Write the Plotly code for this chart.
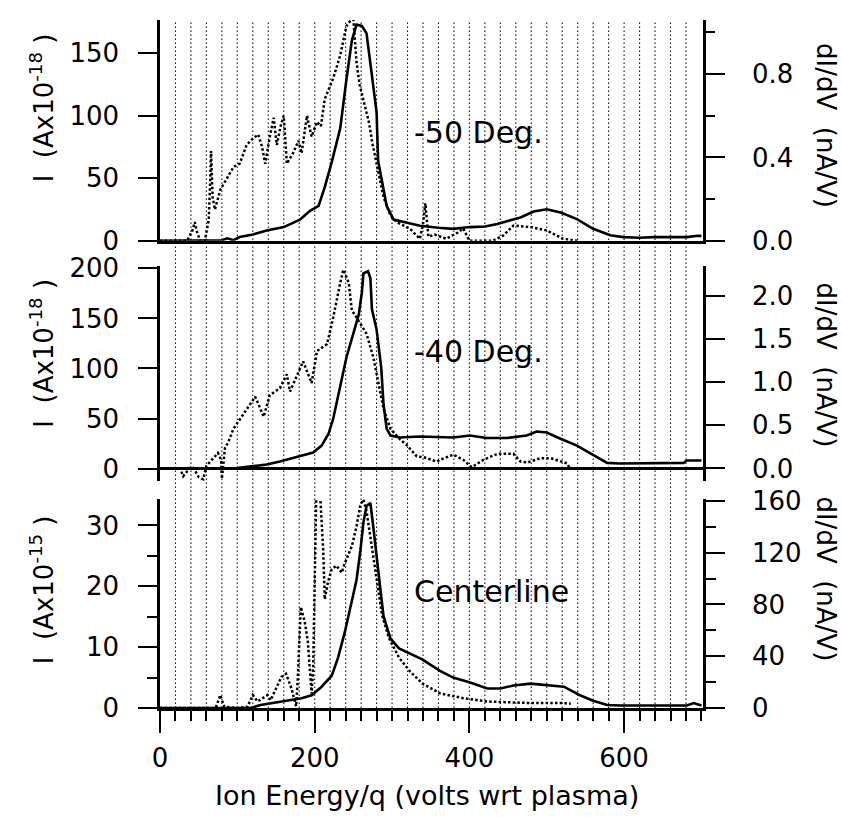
import plotly.graph_objects as go

# ---------------- data ----------------
# Energy axis (volts wrt plasma)
grid_x = list(range(20, 700, 20))

# -50 Deg. panel
top_solid_x = [0, 20, 40, 60, 80, 87, 95, 103, 120, 138, 160, 181, 194, 205, 213, 222, 233, 241, 248, 254,
               261, 267, 274, 280, 282, 289, 293, 302, 317, 336, 360, 379, 401, 420, 436, 452, 466, 483,
               500, 518, 539, 560, 582, 599, 620, 638, 660, 681, 695, 700]
top_solid_y = [0, 0, 0.5, 0, 0.5, 2, 0.5, 3, 5, 8.3, 11, 17, 24, 28, 43, 63, 90, 129, 160, 173,
               172, 166, 134, 103, 64, 43, 28, 17, 15, 12, 10.5, 9.6, 11, 11.5, 13.5, 16, 18.7, 23.4,
               25.2, 22.6, 17.4, 9.6, 4.4, 3, 2.5, 3, 3, 3, 4, 4]
top_dot_x = [0, 20, 35, 42, 45, 48, 52, 58, 63, 65, 66, 68, 71, 78, 87, 95, 103, 112, 120, 127, 132, 136,
             142, 147, 151, 156, 160, 164, 172, 179, 183, 190, 196, 203, 208, 213, 224, 233, 241, 247, 250,
             254, 258, 263, 270, 275, 282, 289, 298, 306, 323, 336, 340, 343, 347, 355, 370, 385, 392,
             400, 409, 430, 444, 457, 466, 479, 500, 521, 540]
top_dot_y = [0, 0, 0, 0.05, 0.09, 0.04, 0, 0, 0.1, 0.3, 0.43, 0.21, 0.15, 0.245, 0.3, 0.354, 0.37, 0.46,
             0.49, 0.51, 0.45, 0.37, 0.5, 0.59, 0.46, 0.55, 0.6, 0.37, 0.42, 0.48, 0.42, 0.6, 0.5, 0.57,
             0.55, 0.68, 0.78, 0.89, 1.03, 1.06, 1.06, 0.86, 0.75, 0.68, 0.57, 0.46, 0.34, 0.21, 0.12,
             0.09, 0.058, 0.01, 0.08, 0.18, 0.02, 0.03, 0.01, 0.04, 0.06, 0.0, 0.0, 0.0, 0.026, 0.073,
             0.07, 0.066, 0.05, 0.01, 0]

# -40 Deg. panel
mid_solid_x = [0, 30, 60, 90, 99, 121, 138, 155, 181, 198, 209, 218, 224, 233, 241, 250, 257, 261, 263,
               269, 272, 274, 280, 286, 289, 293, 298, 310, 336, 379, 401, 422, 448, 474, 487, 500, 508,
               517, 539, 560, 578, 595, 638, 677, 681, 700]
mid_solid_y = [0, 0, 0, 0, 0.5, 2.4, 4, 7, 12, 16, 23, 35, 50, 81, 111, 135, 154, 176, 195,
               197, 190, 159, 139, 101, 64, 40, 33, 31, 32, 31, 33, 30.5, 30.5, 33, 37, 36, 33,
               30, 23, 14, 5.7, 5, 5, 5.7, 8, 8]
mid_dot_x = [0, 20, 26, 30, 39, 43, 50, 56, 60, 67, 75, 79, 80, 84, 88, 95, 112, 123, 127, 134, 142, 155,
             164, 168, 172, 185, 196, 203, 216, 224, 233, 237, 244, 248, 254, 259, 267, 276, 282, 289,
             298, 310, 319, 332, 341, 358, 362, 379, 392, 403, 418, 436, 457, 466, 475, 492, 505, 526, 530]
mid_dot_y = [0, 0, 0, -0.09, 0.01, 0.01, -0.1, -0.125, 0.03, 0.1, 0.18, 0.1, -0.12, 0.235, 0.3, 0.46,
             0.69, 0.83, 0.75, 0.6, 0.85, 0.93, 1.09, 0.89, 0.97, 1.24, 0.99, 1.36, 1.44, 1.75, 2.15,
             2.3, 2.15, 1.83, 1.75, 1.68, 1.56, 1.28, 1.0, 0.69, 0.46, 0.34, 0.27, 0.14, 0.13, 0.08,
             0.1, 0.16, 0.1, 0.015, 0.1, 0.17, 0.17, 0.08, 0.07, 0.12, 0.12, 0.06, 0.0]

# Centerline panel
bot_solid_x = [0, 60, 117, 130, 161, 183, 196, 209, 222, 230, 239, 248, 254, 259, 263, 267, 272, 276,
               280, 285, 289, 298, 309, 326, 339, 362, 379, 401, 423, 440, 457, 479, 500, 522, 543,
               560, 578, 595, 681, 690, 700]
bot_solid_y = [0, 0, 0, 0.5, 1.1, 1.6, 2.1, 3.5, 5.3, 8.2, 12.5, 17.8, 21, 25.8, 30.5, 33.2, 33.7, 29.5,
               24.7, 19.4, 15.1, 11.4, 9.8, 8.8, 8, 6.1, 5.0, 4.2, 3.2, 3.2, 3.7, 4.0, 3.7, 3.5, 2.1,
               1.2, 0.5, 0.4, 0.4, 0.8, 0.4]
bot_dot_x = [0, 40, 72, 78, 83, 100, 113, 120, 126, 139, 143, 157, 163, 170, 176, 178, 182, 187, 191,
             196, 198, 200, 202, 207, 211, 213, 217, 222, 228, 235, 239, 248, 254, 259, 263, 267, 270,
             274, 280, 287, 296, 309, 322, 339, 362, 392, 423, 449, 479, 522, 531]
bot_dot_y = [0, 0, 0, 10, 1, 0, 1, 10, 5, 10, 6, 24, 26.5, 15, 1.3, 21, 78, 67, 52,
             11, 31, 97, 165, 165, 122, 84, 97, 107, 110, 104.5, 112, 125, 140, 157, 161, 152, 140,
             122, 97, 72, 54, 39, 29, 19, 11.3, 7.6, 5, 4.3, 3.8, 3.8, 3.3]

x_ticks = [0, 200, 400, 600]
top_left_ticks = [0, 50, 100, 150]
top_right_ticks = [0.0, 0.4, 0.8]
mid_left_ticks = [0, 50, 100, 150, 200]
mid_right_ticks = [0.0, 0.5, 1.0, 1.5, 2.0]
bot_left_ticks = [0, 10, 20, 30]
bot_right_ticks = [0, 40, 80, 120, 160]

panel_labels = ["-50 Deg.", "-40 Deg.", "Centerline"]

# ---------------- figure ----------------
FONT = "DejaVu Sans, Liberation Sans, Arial, sans-serif"
BLACK = "#000000"
W, H = 842, 817
ML, MR, MT, MB = 160, 139, 7, 109
PW, PH = W - ML - MR, H - MT - MB


def py2paper(py):
    return (H - MB - py) / PH


def px2paper(px):
    return (px - ML) / PW


fig = go.Figure()

solid = dict(color=BLACK, width=2.6)
dotted = dict(color=BLACK, width=2.5, dash="2.5px,2.2px")

fig.add_trace(go.Scatter(x=top_solid_x, y=top_solid_y, mode="lines", line=solid, xaxis="x", yaxis="y"))
fig.add_trace(go.Scatter(x=top_dot_x, y=top_dot_y, mode="lines", line=dotted, xaxis="x", yaxis="y2"))
fig.add_trace(go.Scatter(x=mid_solid_x, y=mid_solid_y, mode="lines", line=solid, xaxis="x2", yaxis="y3"))
fig.add_trace(go.Scatter(x=mid_dot_x, y=mid_dot_y, mode="lines", line=dotted, xaxis="x2", yaxis="y4"))
fig.add_trace(go.Scatter(x=bot_solid_x, y=bot_solid_y, mode="lines", line=solid, xaxis="x3", yaxis="y5"))
fig.add_trace(go.Scatter(x=bot_dot_x, y=bot_dot_y, mode="lines", line=dotted, xaxis="x3", yaxis="y6"))

tickfont = dict(family=FONT, size=26, color=BLACK)
XR = [0, 702]

dom_top = [py2paper(232), 1.0]
dom_mid = [py2paper(477), py2paper(258)]
dom_bot = [0.0, py2paper(495)]

common_y = dict(showgrid=False, zeroline=False, showline=True, linecolor=BLACK, linewidth=2.5,
                ticks="outside", ticklen=19, tickwidth=2.2, tickcolor=BLACK, tickfont=tickfont)
LSO, RSO = 14, 22

fig.update_layout(
    width=W, height=H,
    margin=dict(l=ML, r=MR, t=MT, b=MB),
    paper_bgcolor="white", plot_bgcolor="rgba(0,0,0,0)",
    showlegend=False,
    font=dict(family=FONT, color=BLACK),
    xaxis=dict(domain=[0, 1], anchor="y", range=XR, showgrid=False, zeroline=False, showline=True,
               linecolor=BLACK, linewidth=2.5, ticks="", showticklabels=False, matches="x3"),
    xaxis2=dict(domain=[0, 1], anchor="y3", range=XR, showgrid=False, zeroline=False, showline=False,
                ticks="", showticklabels=False, matches="x3"),
    xaxis3=dict(domain=[0, 1], anchor="y5", range=XR, showgrid=False, zeroline=False, showline=True,
                linecolor=BLACK, linewidth=2.5, ticks="outside", ticklen=22, tickwidth=2.2,
                tickcolor=BLACK, tickvals=x_ticks, tickfont=tickfont, ticklabelstandoff=3,
                minor=dict(ticks="outside", ticklen=10, tickwidth=2.2, tickcolor=BLACK, dtick=20, tick0=0)),
    yaxis=dict(domain=dom_top, anchor="x", range=[0, 176.7], tickvals=top_left_ticks,
               ticklabelstandoff=LSO, **common_y),
    yaxis2=dict(domain=dom_top, anchor="x", overlaying="y", side="right", range=[0, 1.059],
                tickmode="linear", tick0=0, dtick=0.4, tickformat=".1f", ticklabelstandoff=RSO,
                minor=dict(ticks="outside", ticklen=9, tickwidth=2.2, tickcolor=BLACK, dtick=0.2, tick0=0),
                **common_y),
    yaxis3=dict(domain=dom_mid, anchor="x2", range=[-12.7, 202], tickvals=mid_left_ticks,
                ticklabelstandoff=LSO, **{**common_y, "zeroline": True, "zerolinecolor": BLACK,
                                          "zerolinewidth": 2.5}),
    yaxis4=dict(domain=dom_mid, anchor="x2", overlaying="y3", side="right", range=[-0.148, 2.34],
                tickvals=mid_right_ticks, tickformat=".1f", ticklabelstandoff=RSO, **common_y),
    yaxis5=dict(domain=dom_bot, anchor="x3", range=[0, 34.35], tickvals=bot_left_ticks,
                ticklabelstandoff=LSO,
                minor=dict(ticks="outside", ticklen=10, tickwidth=2.2, tickcolor=BLACK, dtick=5, tick0=0),
                **common_y),
    yaxis6=dict(domain=dom_bot, anchor="x3", overlaying="y5", side="right", range=[0, 161.5],
                tickvals=bot_right_ticks, ticklabelstandoff=RSO,
                minor=dict(ticks="outside", ticklen=10, tickwidth=2.2, tickcolor=BLACK, dtick=20, tick0=0),
                **common_y),
)

# vertical dotted grid lines running through all three panels
shapes = []
for gx in grid_x:
    shapes.append(dict(type="line", xref="x3", yref="paper", x0=gx, x1=gx, y0=0, y1=1,
                       line=dict(color="#111111", width=1.1, dash="1.5px,2.5px"), layer="below"))
fig.update_layout(shapes=shapes)

annots = []
titlefont = dict(family=FONT, size=26, color=BLACK)
left_title = "I  (Ax10<sup>%s</sup> )"
for exp, pyc in [("-18", 97), ("-18", 347), ("-15", 588)]:
    annots.append(dict(text=left_title % exp, xref="paper", yref="paper", x=px2paper(42), y=py2paper(pyc),
                       xanchor="center", yanchor="middle", textangle=-90, showarrow=False, font=titlefont))
for pyc in [114, 358, 576]:
    annots.append(dict(text="dI/dV  (nA/V)", xref="paper", yref="paper", x=px2paper(826), y=py2paper(pyc),
                       xanchor="center", yanchor="middle", textangle=90, showarrow=False, font=titlefont))

labfont = dict(family=FONT, size=30, color=BLACK)
for lab, xr, yr, yv in [(panel_labels[0], "x", "y", 87), (panel_labels[1], "x2", "y3", 117),
                        (panel_labels[2], "x3", "y5", 19.2)]:
    annots.append(dict(text=lab, xref=xr, yref=yr, x=326, y=yv, xanchor="left", yanchor="middle",
                       showarrow=False, font=labfont))

annots.append(dict(text="Ion Energy/q (volts wrt plasma)", xref="paper", yref="paper",
                   x=px2paper(427), y=py2paper(797), xanchor="center", yanchor="middle",
                   showarrow=False, font=dict(family=FONT, size=27, color=BLACK)))
fig.update_layout(annotations=annots)

fig.write_html("out.html")
